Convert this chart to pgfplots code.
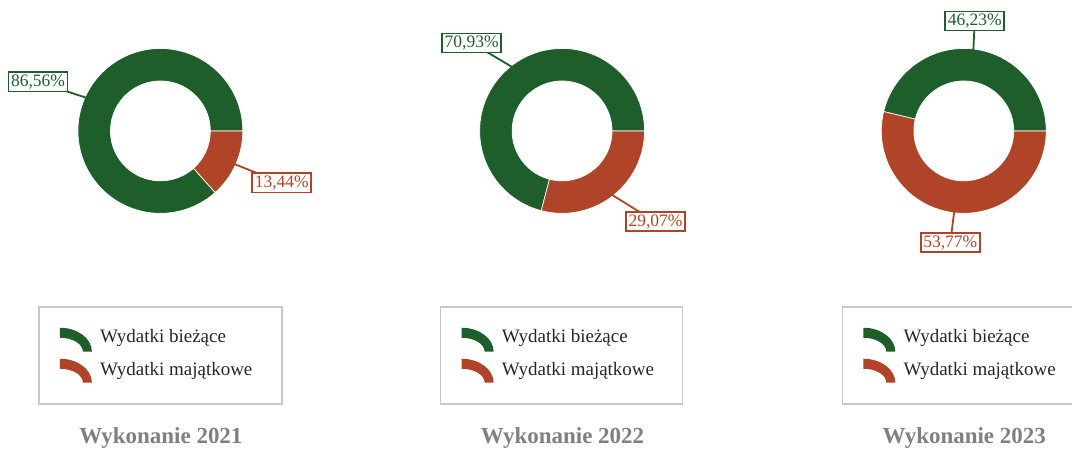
\documentclass[border=0pt]{standalone}
\usepackage{pgfplots}
\pgfplotsset{compat=1.18}
\usepackage{pgfplotstable}
\usepackage{fontspec}
\setmainfont{Liberation Serif}

\definecolor{zielony}{HTML}{1E5E2B}
\definecolor{czerwony}{HTML}{B04428}
\definecolor{ramka}{HTML}{C8C8C8}
\definecolor{tytul}{HTML}{808080}

% udzial wydatkow (%) w kolejnych latach
\pgfplotstableread{
rok  biezace majatkowe
2021 86.56   13.44
2022 70.93   29.07
2023 46.23   53.77
}\wydatki

% wycinek pierscienia: srodek x, srodek y, kat od, kat do, kolor
\newcommand\wycinek[5]{%
  \fill[#5, draw=white, line width=0.7pt] (axis cs:#1,#2) ++(#3:82.5pt)
    arc[start angle=#3, end angle=#4, radius=82.5pt] -- ++(#4:-32.5pt)
    arc[start angle=#4, end angle=#3, radius=50pt] -- cycle;}

% etykieta: srodek x, srodek y, kat, pozycja etykiety, tekst, kolor
\newcommand\etykieta[6]{%
  \draw[#6, line width=1.8pt] (axis cs:#1,#2) ++(#3:80pt) -- (axis cs:#4);
  \node[draw=#6, line width=1.8pt, fill=white, text=#6, inner xsep=2.6pt, inner ysep=2.4pt,
    font=\fontsize{17.5}{19}\selectfont] at (axis cs:#4) {#5};}

% legenda z ramka: lewy brzeg x, prawy brzeg x
\newcommand\legenda[2]{%
  \draw[ramka, line width=1.6pt] (axis cs:#2,307) -- (axis cs:#1,307) -- (axis cs:#1,404) -- (axis cs:#2,404)
    \ifdim#2pt<1070pt -- cycle\fi;
  \fill[zielony] (axis cs:#1+21,328) arc[start angle=90, end angle=0, x radius=32pt, y radius=24pt]
    -- ++(-9pt,0pt) arc[start angle=0, end angle=90, x radius=23pt, y radius=14pt] -- cycle;
  \fill[czerwony] (axis cs:#1+21,359) arc[start angle=90, end angle=0, x radius=32pt, y radius=24pt]
    -- ++(-9pt,0pt) arc[start angle=0, end angle=90, x radius=23pt, y radius=14pt] -- cycle;
  \node[anchor=base west, inner sep=0pt, font=\fontsize{19}{20}\selectfont, text=black!85]
    at (axis cs:#1+61,343) {Wydatki bieżące};
  \node[anchor=base west, inner sep=0pt, font=\fontsize{19}{20}\selectfont, text=black!85]
    at (axis cs:#1+61,376) {Wydatki majątkowe};}

\begin{document}
\begin{tikzpicture}
\pgfplotstablegetelem{0}{biezace}\of\wydatki \pgfmathsetmacro\kA{3.6*\pgfplotsretval}
\pgfplotstablegetelem{1}{biezace}\of\wydatki \pgfmathsetmacro\kB{3.6*\pgfplotsretval}
\pgfplotstablegetelem{2}{biezace}\of\wydatki \pgfmathsetmacro\kC{3.6*\pgfplotsretval}
\pgfmathsetmacro\mA{\kA/2}\pgfmathsetmacro\nA{(\kA+360)/2}
\pgfmathsetmacro\mB{\kB/2}\pgfmathsetmacro\nB{(\kB+360)/2}
\pgfmathsetmacro\mC{\kC/2}\pgfmathsetmacro\nC{(\kC+360)/2}
\begin{axis}[
  width=1073pt, height=451pt, scale only axis,
  xmin=0, xmax=1073, ymin=0, ymax=451, y dir=reverse,
  hide axis, clip=false]
  \path (axis cs:0,0) rectangle (axis cs:1073,451);

  % 2021
  \wycinek{160.5}{131}{0}{\kA}{zielony}
  \wycinek{160.5}{131}{\kA}{360}{czerwony}
  \etykieta{160.5}{131}{\mA}{38,82}{86,56\%}{zielony}
  \etykieta{160.5}{131}{\nA}{282,183}{13,44\%}{czerwony}

  % 2022
  \wycinek{562.5}{131}{0}{\kB}{zielony}
  \wycinek{562.5}{131}{\kB}{360}{czerwony}
  \etykieta{562.5}{131}{\mB}{472,43}{70,93\%}{zielony}
  \etykieta{562.5}{131}{\nB}{656,222}{29,07\%}{czerwony}

  % 2023
  \wycinek{964.5}{131}{0}{\kC}{zielony}
  \wycinek{964.5}{131}{\kC}{360}{czerwony}
  \etykieta{964.5}{131}{\mC}{975.5,21}{46,23\%}{zielony}
  \etykieta{964.5}{131}{\nC}{951,243}{53,77\%}{czerwony}

  \legenda{39}{282}
  \legenda{441}{683}
  \legenda{843}{1073}

  \node[font=\bfseries\fontsize{23}{24}\selectfont, text=tytul] at (axis cs:161,438) {Wykonanie 2021};
  \node[font=\bfseries\fontsize{23}{24}\selectfont, text=tytul] at (axis cs:563,438) {Wykonanie 2022};
  \node[font=\bfseries\fontsize{23}{24}\selectfont, text=tytul] at (axis cs:965,438) {Wykonanie 2023};
\end{axis}
\end{tikzpicture}
\end{document}
